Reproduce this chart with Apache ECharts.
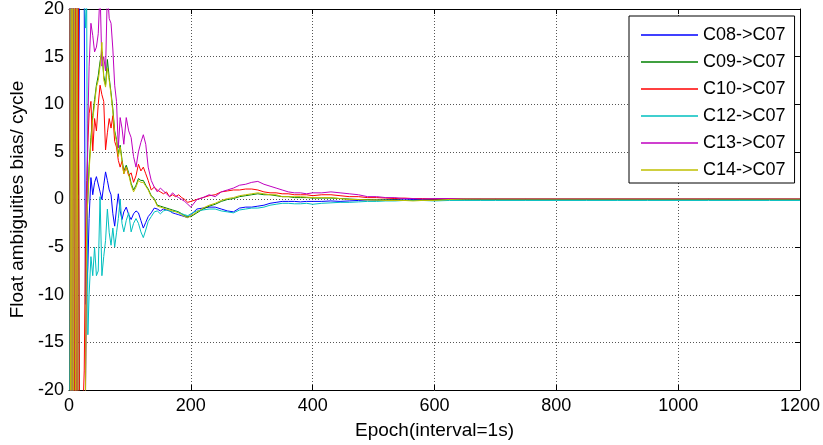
<!DOCTYPE html>
<html><head><meta charset="utf-8">
<script src="https://cdn.jsdelivr.net/npm/echarts@6/dist/echarts.min.js"></script>
<style>html,body{margin:0;padding:0;background:#fff}#c{width:823px;height:445px}</style>
</head><body><div id="c"></div>
<script>
var epochs = [1,3,5,7,9,11,13,15,17,19,21,23,25,27,29,31,33,
36,39,42,45,48,51,54,57,60,63,66,69,72,75,78,81,84,87,90,
94,98,102,106,110,114,118,122,126,130,
135,140,145,150,155,160,165,170,175,180,185,190,195,200,
210,220,230,240,250,260,270,280,290,300,310,320,330,340,350,360,370,380,390,400,
415,430,445,460,475,490,505,520,535,550,565,580,600,
625,650,675,700,
750,800,850,900,950,1000,1050,1100,1150,1200];

var seriesNames = ['C08->C07','C09->C07','C10->C07','C12->C07','C13->C07','C14->C07'];

var c08 = [35,-25,45,38,30,26,22,0.5,20,28,25,30,21,-11,-9.5,-7,-2,
2.3,0.5,1.8,2.4,2.3,0.8,0,1.5,2.9,2.0,1.0,0.5,-1.5,-2.8,-1.0,0.6,-1.2,-2.1,-1.3,
-0.8,-1.6,-2.1,-1.5,-1.2,-1.4,-2.2,-3.0,-2.4,-1.8,
-1.4,-0.9,-1.0,-1.2,-1.0,-1.1,-1.2,-1.4,-1.5,-1.6,-1.7,-1.8,-1.9,-1.6,
-1.0,-0.9,-0.8,-0.8,-1.0,-1.2,-1.3,-0.9,-0.8,-0.8,-0.7,-0.6,-0.4,-0.3,-0.2,-0.2,-0.2,-0.25,-0.2,-0.2,
-0.2,-0.15,-0.2,-0.15,-0.1,-0.05,-0.05,-0.05,0,-0.05,0,0,0,
0,0.02,0,0,
0,0,0,0,0,0,0,0,0,0];

var c09 = [-50,55,-45,50,-40,35,-30,25,-25,-22,-24,-22,-21,-20,-3,0.5,3.5,
6.5,8.8,10.5,12.0,13,14.5,15.5,13,12,14.7,12.8,11.2,9.5,7.2,6.3,4.8,5.7,4.2,3.0,
3.6,2.8,1.7,1.0,1.5,2.2,2.0,2.0,1.5,1.1,
0.4,0.1,-0.6,-0.7,-0.8,-0.9,-1.0,-1.1,-1.2,-1.3,-1.5,-1.7,-1.8,-1.8,
-1.4,-1.0,-0.7,-0.5,-0.2,0,0.1,0.3,0.4,0.5,0.6,0.5,0.5,0.4,0.3,0.3,0.2,0.2,0.2,0.15,
0.15,0.15,0.1,0.05,0,0,-0.05,-0.05,-0.05,-0.1,-0.1,-0.05,-0.05,
0,0.05,0.05,0.05,
0.05,0.05,0.05,0.05,0.05,0.05,0.05,0.05,0.05,0.05];

var c10 = [-40,50,-35,40,-30,30,-25,28,-22,-30,-25,-22,-18,-5,2,6,9,
10.3,5.1,8.5,7.2,10,12,11,10.3,5.2,7,8.5,7.5,8.8,6.1,5.5,4.1,3.4,4.0,2.7,
3.4,2.5,2.8,1.8,2.5,3.7,3.0,3.4,2.7,2.0,
1.0,1.3,1.0,0.8,0.6,0.8,0.3,0.5,0.3,0.5,0.2,0,-0.3,-0.2,
0,0.2,0.4,0.5,0.8,0.9,1.0,1.0,1.1,1.1,1.0,0.8,0.7,0.7,0.6,0.6,0.5,0.5,0.5,0.4,
0.5,0.5,0.4,0.3,0.3,0.2,0.2,0.15,0.1,0.15,0.1,0.1,0.05,
0.1,0.1,0.1,0.1,
0.1,0.1,0.1,0.1,0.1,0.1,0.1,0.1,0.1,0.1];

var c12 = [-30,40,-25,30,45,35,25,30,22,28,24,25,22,18,21,-14.2,-10,
-6,-8,-5,-8,-7.5,0.3,-8,-6,-4.3,-1.0,-3.5,-4.8,-3.0,-5.0,-3.5,-2.0,0,-2.5,-3.4,
-2.2,-1.4,-3.4,-2.5,-2.0,-2.5,-3.4,-4.0,-3.2,-2.3,
-1.8,-1.3,-1.2,-1.5,-1.2,-1.1,-1.2,-1.3,-1.2,-1.4,-1.5,-1.6,-1.7,-1.5,
-1.2,-1.1,-1.0,-1.0,-1.2,-1.3,-1.4,-1.1,-1.0,-0.9,-0.9,-0.8,-0.6,-0.5,-0.4,-0.4,-0.45,-0.45,-0.4,-0.5,
-0.4,-0.35,-0.3,-0.3,-0.25,-0.2,-0.2,-0.15,-0.15,-0.1,-0.1,-0.1,-0.15,
-0.1,-0.1,-0.1,-0.1,
-0.1,-0.1,-0.1,-0.1,-0.1,-0.1,-0.1,-0.1,-0.1,-0.1];

var c13 = [45,-40,35,-50,40,-45,38,-30,-35,-28,-32,-30,-25,-22,-5,8,14,
18.5,17.2,15.5,16,17.4,22,14,15,13.5,22,19,18.5,15.8,12,10.3,5.4,8.6,7.5,5.8,
8.6,7.2,6.5,4.5,3.4,5.0,6.0,6.8,5.8,3.4,
2.0,1.3,0.8,1.2,0.9,0.6,0.3,0.7,0.4,0.2,0,-0.2,-0.5,-0.8,
0,0.2,0.5,0.3,0.8,1.0,1.2,1.5,1.6,1.8,1.9,1.6,1.4,1.2,1.0,0.8,0.7,0.7,0.6,0.7,
0.7,0.8,0.7,0.6,0.5,0.3,0.3,0.2,0.2,0.1,0.1,0.05,0.1,
0.1,0.1,0.1,0.1,
0.1,0.1,0.1,0.1,0.1,0.1,0.1,0.1,0.1,0.1];

var c14 = [60,-55,50,-45,42,-38,30,-28,-30,-26,-25,-24,-22,-21,-2,0,3,
6,8.4,10,11.8,12.5,14,16.5,12.6,11.8,13.8,12.5,11,9.2,7.0,6.1,4.5,5.5,4.0,2.7,
3.4,2.6,1.5,0.8,1.3,2.0,1.8,1.8,1.4,1.0,
0.3,0,-0.7,-0.8,-0.9,-1.0,-1.1,-1.2,-1.3,-1.4,-1.6,-1.8,-1.9,-1.7,
-1.3,-0.9,-0.6,-0.4,-0.1,0.1,0.2,0.4,0.5,0.6,0.7,0.6,0.5,0.5,0.3,0.3,0.3,0.3,0.25,0.2,
0.2,0.2,0.1,0,0,-0.05,-0.05,-0.1,-0.1,-0.1,-0.15,-0.1,-0.1,
0,0.05,0.05,0.05,
0.05,0.05,0.05,0.05,0.05,0.05,0.05,0.05,0.05,0.05];

var seriesValues = [c08, c09, c10, c12, c13, c14];
var colors = ['#0000ff','#008000','#ff0000','#00bfbf','#bf00bf','#bfbf00'];
var xTicks = [0,200,400,600,800,1000,1200];
var yTicks = [-20,-15,-10,-5,0,5,10,15,20];

var FONT = 'Liberation Sans, Arial, sans-serif';
var chart = echarts.init(document.getElementById('c'), null, {renderer:'canvas'});
var series = seriesNames.map(function(n, i){
  return {
    name: n, type: 'line', symbol: 'none', showSymbol: false, clip: true,
    xAxisIndex: 0, yAxisIndex: 0,
    lineStyle: {color: colors[i], width: 1},
    itemStyle: {color: colors[i]},
    data: epochs.map(function(e, k){ return [e, seriesValues[i][k]]; })
  };
});
var axisCommon = {
  axisLine: {show: true, onZero: false, lineStyle: {color: '#000', width: 1}},
  axisTick: {show: true, inside: true, length: 5, lineStyle: {color: '#000'}}
};
chart.setOption({
  animation: false,
  backgroundColor: '#fff',
  grid: {left: 60, right: 18, top: 6, bottom: 52, show: false},
  legend: {
    data: seriesNames.map(function(n, i){ return {name: n, icon: 'rect', itemStyle: {color: colors[i]}}; }),
    orient: 'vertical', left: 629, top: 16,
    itemWidth: 57, itemHeight: 1.5, itemGap: 9,
    padding: [10, 9, 4, 12],
    borderColor: '#000', borderWidth: 1, backgroundColor: '#fff',
    textStyle: {color: '#000', fontSize: 18, lineHeight: 18, fontFamily: FONT}
  },
  xAxis: [
    Object.assign({
      type: 'value', min: xTicks[0], max: xTicks[xTicks.length-1], interval: 200, position: 'bottom',
      name: 'Epoch(interval=1s)', nameLocation: 'middle', nameGap: 31,
      nameTextStyle: {color: '#000', fontSize: 19, fontFamily: FONT},
      axisLabel: {color: '#000', fontSize: 18, fontFamily: FONT, margin: 7,
        formatter: function(v){ return String(v); }},
      splitLine: {show: true, lineStyle: {color: '#555', type: [1, 2], width: 1}}
    }, axisCommon),
    Object.assign({
      type: 'value', min: xTicks[0], max: xTicks[xTicks.length-1], interval: 200, position: 'top',
      axisLabel: {show: false}, splitLine: {show: false}
    }, axisCommon)
  ],
  yAxis: [
    Object.assign({
      type: 'value', min: yTicks[0], max: yTicks[yTicks.length-1], interval: 5, position: 'left',
      name: 'Float ambiguities bias/ cycle', nameLocation: 'middle', nameGap: 42, nameRotate: 90,
      nameTextStyle: {color: '#000', fontSize: 19, fontFamily: FONT},
      axisLabel: {color: '#000', fontSize: 18, fontFamily: FONT, margin: 5},
      splitLine: {show: true, lineStyle: {color: '#555', type: [1, 2], width: 1}}
    }, axisCommon),
    Object.assign({
      type: 'value', min: yTicks[0], max: yTicks[yTicks.length-1], interval: 5, position: 'right',
      axisLabel: {show: false}, splitLine: {show: false}
    }, axisCommon)
  ],
  series: series
});
</script></body></html>
